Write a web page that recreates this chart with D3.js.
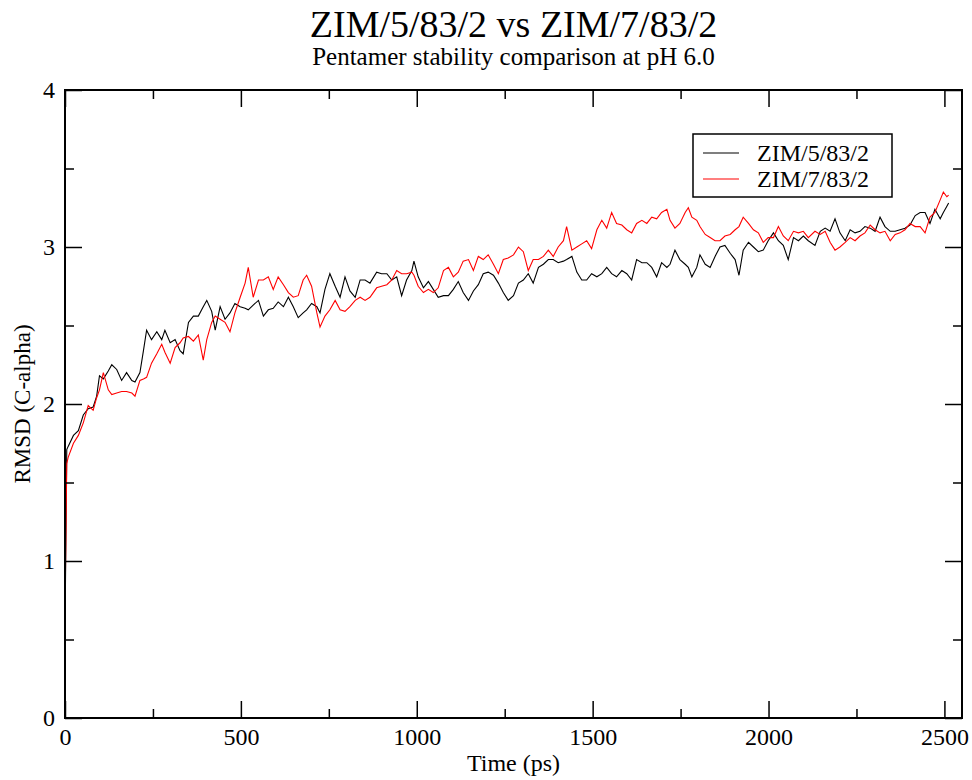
<!DOCTYPE html>
<html>
<head>
<meta charset="utf-8">
<script src="https://cdn.jsdelivr.net/npm/d3@7"></script>
<style>
  html, body { margin: 0; padding: 0; background: #fff; }
  svg { display: block; }
</style>
</head>
<body>
<div id="chart"></div>
<script>
// RMSD traces (ps, nm-ish units as shown)
const times = [0, 5, 9, 24, 38, 52, 66, 80, 90, 98, 109, 123, 133, 147, 161, 175, 190, 199, 213, 223,
  232, 246, 261, 275, 284, 299, 313, 327, 336, 351, 365, 379, 393, 403, 417, 427, 441, 455, 469, 483,
  498, 512, 521, 535, 550, 564, 578, 592, 606, 621, 635, 649, 663, 677, 687, 701, 716, 725, 739, 753,
  768, 782, 796, 810, 825, 839, 853, 867, 886, 900, 915, 929, 943, 957, 971, 986, 992, 1004, 1019, 1033,
  1047, 1061, 1076, 1090, 1104, 1118, 1132, 1147, 1161, 1175, 1189, 1203, 1218, 1232, 1246, 1260, 1275, 1289, 1303, 1317,
  1331, 1346, 1360, 1374, 1388, 1402, 1417, 1426, 1441, 1455, 1469, 1483, 1497, 1512, 1526, 1540, 1554, 1568, 1583, 1597,
  1611, 1625, 1640, 1654, 1668, 1682, 1696, 1711, 1720, 1734, 1748, 1763, 1772, 1782, 1796, 1805, 1820, 1834, 1848, 1862,
  1876, 1891, 1905, 1916, 1928, 1943, 1957, 1971, 1985, 1999, 2014, 2028, 2042, 2056, 2071, 2085, 2099, 2113, 2132, 2147,
  2161, 2175, 2189, 2203, 2218, 2232, 2246, 2260, 2274, 2289, 2303, 2317, 2331, 2346, 2360, 2374, 2388, 2402, 2417, 2431,
  2445, 2459, 2473, 2488, 2497, 2507, 2512];

const zim5 = [0.55, 1.71, 1.73, 1.80, 1.83, 1.93, 1.97, 1.98, 2.05, 2.18, 2.16, 2.21, 2.25, 2.22, 2.15, 2.20, 2.15, 2.14, 2.20, 2.34,
  2.47, 2.41, 2.46, 2.41, 2.47, 2.39, 2.41, 2.34, 2.32, 2.52, 2.56, 2.56, 2.62, 2.66, 2.59, 2.47, 2.62, 2.54, 2.58, 2.64,
  2.62, 2.61, 2.60, 2.63, 2.66, 2.56, 2.60, 2.61, 2.65, 2.62, 2.68, 2.62, 2.55, 2.58, 2.60, 2.64, 2.62, 2.58, 2.73, 2.83,
  2.75, 2.68, 2.81, 2.72, 2.68, 2.79, 2.79, 2.77, 2.84, 2.83, 2.83, 2.79, 2.81, 2.69, 2.79, 2.85, 2.91, 2.81, 2.74, 2.78,
  2.73, 2.68, 2.69, 2.69, 2.73, 2.78, 2.71, 2.66, 2.72, 2.76, 2.83, 2.84, 2.82, 2.77, 2.71, 2.66, 2.69, 2.77, 2.79, 2.83,
  2.77, 2.87, 2.89, 2.92, 2.92, 2.90, 2.91, 2.92, 2.94, 2.84, 2.79, 2.79, 2.83, 2.81, 2.83, 2.87, 2.83, 2.81, 2.85, 2.83,
  2.79, 2.92, 2.90, 2.90, 2.87, 2.81, 2.90, 2.87, 2.89, 2.98, 2.92, 2.89, 2.87, 2.81, 2.87, 2.95, 2.89, 2.87, 2.94, 3.00,
  3.01, 2.96, 2.92, 2.82, 2.98, 3.03, 3.00, 2.97, 2.98, 3.04, 3.09, 3.04, 3.01, 2.92, 3.06, 3.04, 3.07, 3.04, 3.01, 3.10,
  3.12, 3.10, 3.18, 3.09, 3.04, 3.11, 3.09, 3.10, 3.13, 3.12, 3.10, 3.19, 3.13, 3.10, 3.10, 3.11, 3.12, 3.14, 3.20, 3.22,
  3.22, 3.15, 3.24, 3.18, 3.22, 3.26, 3.28];

const zim7 = [0.68, 1.62, 1.66, 1.75, 1.80, 1.88, 1.99, 1.96, 2.04, 2.09, 2.20, 2.09, 2.06, 2.07, 2.08, 2.08, 2.07, 2.05, 2.15, 2.16,
  2.17, 2.26, 2.32, 2.38, 2.33, 2.26, 2.36, 2.39, 2.42, 2.43, 2.40, 2.44, 2.28, 2.41, 2.52, 2.56, 2.54, 2.52, 2.46, 2.58,
  2.68, 2.77, 2.87, 2.68, 2.79, 2.79, 2.81, 2.73, 2.81, 2.76, 2.71, 2.68, 2.69, 2.79, 2.82, 2.75, 2.58, 2.49, 2.56, 2.60,
  2.66, 2.60, 2.59, 2.62, 2.66, 2.68, 2.66, 2.68, 2.74, 2.75, 2.76, 2.79, 2.85, 2.83, 2.83, 2.84, 2.82, 2.75, 2.71, 2.73,
  2.71, 2.74, 2.85, 2.87, 2.81, 2.84, 2.91, 2.92, 2.85, 2.94, 2.92, 2.95, 2.89, 2.83, 2.92, 2.93, 2.95, 3.00, 2.97, 2.85,
  2.92, 2.92, 2.94, 2.98, 2.94, 3.00, 3.04, 3.13, 2.98, 3.00, 3.02, 3.04, 2.99, 3.11, 3.17, 3.12, 3.22, 3.15, 3.14, 3.11,
  3.09, 3.15, 3.17, 3.15, 3.19, 3.18, 3.22, 3.24, 3.17, 3.12, 3.15, 3.22, 3.25, 3.19, 3.17, 3.13, 3.08, 3.06, 3.04, 3.04,
  3.07, 3.08, 3.11, 3.13, 3.19, 3.15, 3.11, 3.09, 3.03, 3.06, 3.06, 3.13, 3.07, 3.04, 3.10, 3.09, 3.10, 3.06, 3.10, 3.08,
  3.10, 3.03, 2.98, 3.00, 3.03, 3.06, 3.04, 3.07, 3.09, 3.14, 3.11, 3.09, 3.10, 3.04, 3.08, 3.09, 3.11, 3.15, 3.13, 3.13,
  3.09, 3.19, 3.22, 3.30, 3.35, 3.32, 3.33];

const seriesNames = ['ZIM/5/83/2', 'ZIM/7/83/2'];
const seriesColors = ['#000000', '#ff0000'];
const xMajorTicks = [0, 500, 1000, 1500, 2000, 2500];
const xMinorTicks = [250, 750, 1250, 1750, 2250];
const yMajorTicks = [0, 1, 2, 3, 4];
const yMinorTicks = [0.5, 1.5, 2.5, 3.5];

const FONT = "'Liberation Serif', 'Times New Roman', serif";
const width = 972;
const height = 780;
const plot = { left: 65, right: 962, top: 90, bottom: 718 };

const svg = d3.select('#chart').append('svg')
  .attr('width', width)
  .attr('height', height)
  .attr('font-family', FONT);

const x = d3.scaleLinear().domain([0, 2550]).range([plot.left, plot.right]);
const y = d3.scaleLinear().domain([0, 4]).range([plot.bottom, plot.top]);

// titles
svg.append('text')
  .attr('x', (plot.left + plot.right) / 2).attr('y', 37)
  .attr('text-anchor', 'middle').attr('font-size', 38)
  .text('ZIM/5/83/2 vs ZIM/7/83/2');
svg.append('text')
  .attr('x', (plot.left + plot.right) / 2).attr('y', 65)
  .attr('text-anchor', 'middle').attr('font-size', 25)
  .text('Pentamer stability comparison at pH 6.0');

// data lines
const line = d3.line().x((d) => x(d[0])).y((d) => y(d[1]));
[zim5, zim7].forEach((values, i) => {
  svg.append('path')
    .datum(times.map((t, k) => [t, values[k]]))
    .attr('fill', 'none')
    .attr('stroke', seriesColors[i])
    .attr('stroke-width', 1.1)
    .attr('d', line);
});

// axes: ticks point inward on all four sides
function styleAxis(g) {
  g.attr('font-family', FONT);
  g.select('.domain').remove();
  g.selectAll('line').attr('stroke', '#000').attr('stroke-width', 1.5);
  g.selectAll('text').attr('font-size', 24).attr('fill', '#000');
}

svg.append('g').attr('transform', `translate(0,${plot.bottom})`)
  .call(d3.axisBottom(x).tickValues(xMajorTicks).tickSize(-17).tickPadding(10).tickFormat(d3.format('d')))
  .call(styleAxis);
svg.append('g').attr('transform', `translate(0,${plot.bottom})`)
  .call(d3.axisBottom(x).tickValues(xMinorTicks).tickSize(-9).tickFormat(''))
  .call(styleAxis);
svg.append('g').attr('transform', `translate(0,${plot.top})`)
  .call(d3.axisTop(x).tickValues(xMajorTicks).tickSize(-17).tickFormat(''))
  .call(styleAxis);
svg.append('g').attr('transform', `translate(0,${plot.top})`)
  .call(d3.axisTop(x).tickValues(xMinorTicks).tickSize(-9).tickFormat(''))
  .call(styleAxis);

svg.append('g').attr('transform', `translate(${plot.left},0)`)
  .call(d3.axisLeft(y).tickValues(yMajorTicks).tickSize(-17).tickPadding(10).tickFormat(d3.format('d')))
  .call(styleAxis);
svg.append('g').attr('transform', `translate(${plot.left},0)`)
  .call(d3.axisLeft(y).tickValues(yMinorTicks).tickSize(-9).tickFormat(''))
  .call(styleAxis);
svg.append('g').attr('transform', `translate(${plot.right},0)`)
  .call(d3.axisRight(y).tickValues(yMajorTicks).tickSize(-17).tickFormat(''))
  .call(styleAxis);
svg.append('g').attr('transform', `translate(${plot.right},0)`)
  .call(d3.axisRight(y).tickValues(yMinorTicks).tickSize(-9).tickFormat(''))
  .call(styleAxis);

// frame
svg.append('rect')
  .attr('x', plot.left).attr('y', plot.top)
  .attr('width', plot.right - plot.left).attr('height', plot.bottom - plot.top)
  .attr('fill', 'none').attr('stroke', '#000').attr('stroke-width', 2);

// axis labels
svg.append('text')
  .attr('x', (plot.left + plot.right) / 2).attr('y', 771)
  .attr('text-anchor', 'middle').attr('font-size', 24)
  .text('Time (ps)');
svg.append('text')
  .attr('transform', `translate(30,${(plot.top + plot.bottom) / 2}) rotate(-90)`)
  .attr('text-anchor', 'middle').attr('font-size', 23)
  .text('RMSD (C-alpha)');

// legend
const legend = svg.append('g').attr('transform', 'translate(693,134)');
legend.append('rect')
  .attr('width', 199).attr('height', 63)
  .attr('fill', '#fff').attr('stroke', '#000').attr('stroke-width', 1.5);
seriesNames.forEach((name, i) => {
  const rowY = 19 + i * 26;
  legend.append('line')
    .attr('x1', 10).attr('x2', 46).attr('y1', rowY).attr('y2', rowY)
    .attr('stroke', seriesColors[i]).attr('stroke-width', 1.2);
  legend.append('text')
    .attr('x', 64).attr('y', rowY + 8)
    .attr('font-size', 24)
    .text(name);
});
</script>
</body>
</html>
